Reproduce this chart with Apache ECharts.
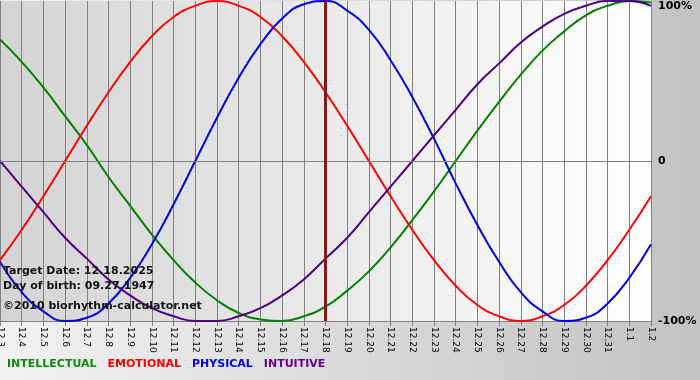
<!DOCTYPE html>
<html>
<head>
<meta charset="utf-8">
<script src="https://cdn.jsdelivr.net/npm/echarts@6/dist/echarts.min.js"></script>
<style>html,body{margin:0;padding:0;}#c{width:700px;height:380px;}</style>
</head>
<body>
<div id="c"></div>
<script>
var categories = ["12.3","12.4","12.5","12.6","12.7","12.8","12.9","12.10","12.11","12.12","12.13","12.14","12.15","12.16","12.17","12.18","12.19","12.20","12.21","12.22","12.23","12.24","12.25","12.26","12.27","12.28","12.29","12.30","12.31","1.1","1.2"];
var intellectual = [76,62,46,28,10,-10,-28,-46,-62,-76,-87,-95,-99,-100,-97,-91,-81,-69,-54,-37,-19,0,19,37,54,69,81,91,97,100,99];
var emotional = [-62,-43,-22,0,22,43,62,78,90,97,100,97,90,78,62,43,22,0,-22,-43,-62,-78,-90,-97,-100,-97,-90,-78,-62,-43,-22];
var physical = [-63,-82,-94,-100,-98,-89,-73,-52,-27,0,27,52,73,89,98,100,94,82,63,40,14,-14,-40,-63,-82,-94,-100,-98,-89,-73,-52];
var intuitive = [0,-16,-32,-48,-61,-74,-84,-92,-97,-100,-100,-97,-92,-84,-74,-61,-48,-32,-16,0,16,32,48,61,74,84,92,97,100,100,97];
var yTicks = [-100, 0, 100];
var targetDay = "12.18";
var infoLines = ["Target Date: 12.18.2025", "Day of birth: 09.27.1947", "\u00a92010 biorhythm-calculator.net"];

var names = ["INTELLECTUAL","EMOTIONAL","PHYSICAL","INTUITIVE"];
var lineColors = ["#008000","#ff0000","#0000dd","#4b0082"];
var textColors = ["#0a8a0a","#ff0000","#0000ee","#660099"];
var values = [intellectual, emotional, physical, intuitive];

var font = "DejaVu Sans, Verdana, sans-serif";
var chart = echarts.init(document.getElementById('c'), null, {renderer:'canvas'});

var series = values.map(function(v, i){
  return {
    name: names[i], type: 'line', data: v, smooth: true, showSymbol: false,
    symbol: 'none', lineStyle: {color: lineColors[i], width: 2}, itemStyle:{color: lineColors[i]},
    animation: false, z: 3
  };
});
series[0].markLine = {
  silent: true, symbol: 'none', animation: false,
  label: {show: false},
  data: [
    {yAxis: 0, lineStyle: {color: '#808080', width: 1, type: 'solid'}},
    {xAxis: targetDay, lineStyle: {color: '#7e1c1c', width: 3, type: 'solid'}}
  ]
};

var option = {
  backgroundColor: {type:'linear', x:0, y:0, x2:1, y2:0, colorStops:[{offset:0,color:'#f2f2f2'},{offset:1,color:'#c2c2c2'}]},
  animation: false,
  grid: {left: 0, top: 1, width: 651, height: 320, show: true, borderWidth: 0,
    outerBoundsMode: 'none', containLabel: false,
    backgroundColor: {type:'linear', x:0, y:0, x2:1, y2:0, colorStops:[{offset:0,color:'#d4d4d4'},{offset:1,color:'#ffffff'}]}},
  legend: {
    left: -3, top: 354, itemWidth: 0, itemHeight: 0, itemGap: 6, icon: 'rect', selectedMode: false,
    data: names.map(function(n, i){ return {name: n, textStyle: {color: textColors[i]}}; }),
    textStyle: {fontFamily: font, fontSize: 11, fontWeight: 'bold'}
  },
  xAxis: {
    type: 'category', data: categories, boundaryGap: false,
    axisLine: {show: true, onZero: false, lineStyle: {color: '#808080', width: 1}},
    axisTick: {show: true, length: 5, lineStyle: {color: '#808080'}, alignWithLabel: true},
    axisLabel: {rotate: -90, interval: 0, margin: 6, color: '#000', fontFamily: font, fontSize: 9},
    splitLine: {show: true, lineStyle: {color: '#808080', width: 1}}
  },
  yAxis: {
    type: 'value', position: 'right', min: yTicks[0], max: yTicks[2], interval: 100,
    axisLine: {show: false}, axisTick: {show: false},
    splitLine: {show: false},
    axisLabel: {margin: 7, align: 'left', color: '#000', fontFamily: font, fontSize: 11, fontWeight: 'bold',
      verticalAlignMaxLabel: 'top',
      formatter: function(v){ return v === 0 ? '0' : v + '%'; }}
  },
  graphic: infoLines.map(function(t, i){
    return {type: 'text', left: 3, top: [266, 281, 301][i], z: 10, silent: true,
      style: {text: t, fill: '#111', font: 'bold 11px ' + font}};
  }),
  series: series
};
chart.setOption(option);
</script>
</body>
</html>
